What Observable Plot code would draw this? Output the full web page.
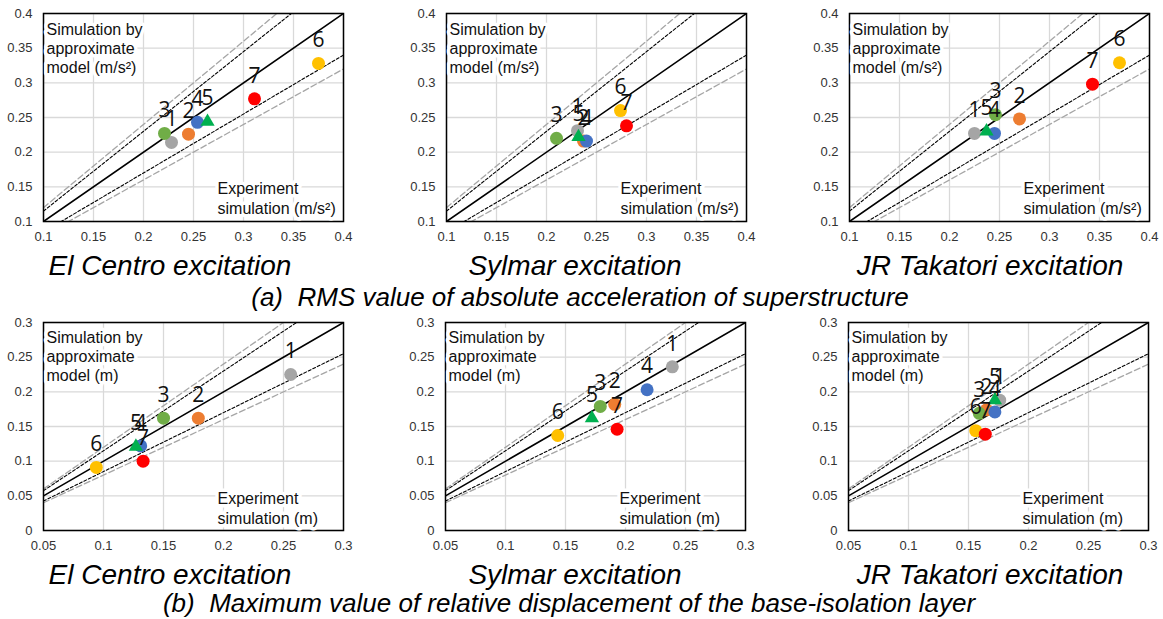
<!DOCTYPE html>
<html>
<head>
<meta charset="utf-8">
<script src="https://cdn.jsdelivr.net/npm/d3@7"></script>
<script src="https://cdn.jsdelivr.net/npm/@observablehq/plot@0.6"></script>
<style>
  html, body { margin: 0; padding: 0; background: #fff; overflow: hidden; }
  #root { position: relative; width: 1163px; height: 619px; background: #fff; font-family: "Liberation Sans", Arial, sans-serif; }
  #root svg { position: absolute; overflow: visible; }
  .ttl { position: absolute; transform: translate(-50%, -50%); white-space: pre; font-style: italic; color: #000; font-family: "Liberation Sans", Arial, sans-serif; }
  .panelTitle { font-size: 28px; }
  .caption { font-size: 26px; }
</style>
</head>
<body>
<div id="root"></div>
<script>
// ---------- data ----------
const labels = ["1", "2", "3", "4", "5", "6", "7"];
const seriesColors = ["#a5a5a5", "#ed7d31", "#70ad47", "#4472c4", "#00b050", "#ffc000", "#ff0000"];
const seriesShapes = ["circle", "circle", "circle", "circle", "triangle", "circle", "circle"];

// (a) RMS value of absolute acceleration of superstructure (m/s2)
const rmsElCentroExp  = [0.228, 0.245, 0.221, 0.254, 0.264, 0.375, 0.311];
const rmsElCentroSim  = [0.214, 0.226, 0.227, 0.243, 0.244, 0.328, 0.277];
const rmsSylmarExp    = [0.231, 0.237, 0.210, 0.240, 0.232, 0.274, 0.280];
const rmsSylmarSim    = [0.231, 0.216, 0.220, 0.216, 0.222, 0.260, 0.238];
const rmsTakatoriExp  = [0.225, 0.270, 0.246, 0.245, 0.237, 0.370, 0.343];
const rmsTakatoriSim  = [0.227, 0.248, 0.254, 0.227, 0.230, 0.329, 0.298];

// (b) Maximum value of relative displacement of the base-isolation layer (m)
const dispElCentroExp = [0.256, 0.179, 0.150, 0.131, 0.127, 0.094, 0.133];
const dispElCentroSim = [0.225, 0.162, 0.162, 0.122, 0.121, 0.091, 0.100];
const dispSylmarExp   = [0.239, 0.191, 0.179, 0.218, 0.172, 0.1435, 0.193];
const dispSylmarSim   = [0.236, 0.182, 0.179, 0.203, 0.162, 0.137, 0.146];
const dispTakatoriExp = [0.176, 0.165, 0.159, 0.172, 0.172, 0.156, 0.164];
const dispTakatoriSim = [0.188, 0.174, 0.169, 0.171, 0.188, 0.144, 0.139];

// reference lines y = k x
const ratioEqual = [1];
const ratioInner = [1.15, 0.85];
const ratioOuter = [1.2, 0.8];

// axes
const rmsTicks  = [0.1, 0.15, 0.2, 0.25, 0.3, 0.35, 0.4];
const dispXTicks = [0.05, 0.1, 0.15, 0.2, 0.25, 0.3];
const dispYTicks = [0, 0.05, 0.1, 0.15, 0.2, 0.25, 0.3];

const excitations = ["El Centro excitation", "Sylmar excitation", "JR Takatori excitation"];
const captionA = "(a)  RMS value of absolute acceleration of superstructure";
const captionB = "(b)  Maximum value of relative displacement of the base-isolation layer";
const yLabelA = "Simulation by\napproximate\nmodel (m/s²)";
const xLabelA = "Experiment\nsimulation (m/s²)";
const yLabelB = "Simulation by\napproximate\nmodel (m)";
const xLabelB = "Experiment\nsimulation (m)";

// ---------- drawing ----------
const fmt = d3.format("~g");
const root = document.getElementById("root");

function refData(ratios, xd) {
  return ratios.flatMap(k => xd.map(x => ({k, x, y: k * x})));
}

function panel({xs, ys, xTicks, yTicks, yLabel, xLabel, left, top, topDy, botDy}) {
  const data = labels.map((l, i) => ({label: l, x: xs[i], y: ys[i], shape: seriesShapes[i], i}));
  const xd = [xTicks[0], xTicks[xTicks.length - 1]];
  const yd = [yTicks[0], yTicks[yTicks.length - 1]];
  const chart = Plot.plot({
    width: 356, height: 246,
    marginLeft: 43, marginRight: 13, marginTop: 13, marginBottom: 25,
    style: {fontFamily: "'Liberation Sans', Arial, sans-serif", fontSize: "13px", color: "#333", background: "transparent"},
    x: {domain: xd, ticks: xTicks, tickFormat: fmt, tickSize: 0, tickPadding: 10, label: null},
    y: {domain: yd, ticks: yTicks, tickFormat: fmt, tickSize: 0, tickPadding: 11, label: null},
    color: {domain: labels, range: seriesColors},
    marks: [
      Plot.ruleX(xTicks, {stroke: "#d9d9d9", strokeWidth: 1.3}),
      Plot.ruleY(yTicks, {stroke: "#d9d9d9", strokeWidth: 1.3}),
      Plot.line(refData(ratioOuter, xd), {x: "x", y: "y", z: "k", stroke: "#a6a6a6", strokeWidth: 1.3, strokeDasharray: "6,3", clip: true}),
      Plot.line(refData(ratioInner, xd), {x: "x", y: "y", z: "k", stroke: "#000", strokeWidth: 1.1, strokeDasharray: "3,2", clip: true}),
      Plot.line(refData(ratioEqual, xd), {x: "x", y: "y", z: "k", stroke: "#000", strokeWidth: 1.6, clip: true}),
      Plot.frame({stroke: "#000", strokeWidth: 1.5}),
      Plot.text([yLabel], {frameAnchor: "top-left", dx: 3, dy: topDy, textAnchor: "start", lineAnchor: "top", lineHeight: 1.19, fontSize: 16, fill: "#111", stroke: "white", strokeWidth: 7, fontFamily: "'Liberation Sans', Arial, sans-serif"}),
      Plot.text([xLabel], {frameAnchor: "bottom-left", dx: 174, dy: botDy, textAnchor: "start", lineAnchor: "bottom", lineHeight: 1.19, fontSize: 16, fill: "#111", stroke: "white", strokeWidth: 7, fontFamily: "'Liberation Sans', Arial, sans-serif"}),
      Plot.dot(data.filter(d => d.i < 4), {x: "x", y: "y", fill: "label", r: 6.5, symbol: "circle"}),
      Plot.dot(data.filter(d => d.shape === "triangle"), {x: "x", y: "y", fill: "label", r: 5.3, symbol: "triangle"}),
      Plot.dot(data.filter(d => d.i > 4), {x: "x", y: "y", fill: "label", r: 6.5, symbol: "circle"}),
      Plot.text(data, {x: "x", y: "y", text: "label", dy: -23, fontSize: 21, fill: "#111", fontFamily: "'Open Sans', sans-serif"})
    ]
  });
  chart.style.left = left + "px";
  chart.style.top = top + "px";
  root.appendChild(chart);
}

const topRow = {xTicks: rmsTicks, yTicks: rmsTicks, yLabel: yLabelA, xLabel: xLabelA, top: 0, topDy: 8, botDy: -8};
panel({...topRow, xs: rmsElCentroExp, ys: rmsElCentroSim, left: 0});
panel({...topRow, xs: rmsSylmarExp, ys: rmsSylmarSim, left: 403});
panel({...topRow, xs: rmsTakatoriExp, ys: rmsTakatoriSim, left: 806});

const botRow = {xTicks: dispXTicks, yTicks: dispYTicks, yLabel: yLabelB, xLabel: xLabelB, top: 309, topDy: 7, botDy: -7};
panel({...botRow, xs: dispElCentroExp, ys: dispElCentroSim, left: 0});
panel({...botRow, xs: dispSylmarExp, ys: dispSylmarSim, left: 402});
panel({...botRow, xs: dispTakatoriExp, ys: dispTakatoriSim, left: 805});

function addText(txt, cls, x, y) {
  const d = document.createElement("div");
  d.className = "ttl " + cls;
  d.textContent = txt;
  d.style.left = x + "px";
  d.style.top = y + "px";
  root.appendChild(d);
}
const titleX = [170, 575, 990];
excitations.forEach((t, i) => addText(t, "panelTitle", titleX[i], 266));
excitations.forEach((t, i) => addText(t, "panelTitle", titleX[i], 575));
addText(captionA, "caption", 580, 297);
addText(captionB, "caption", 569, 603);
</script>
</body>
</html>
